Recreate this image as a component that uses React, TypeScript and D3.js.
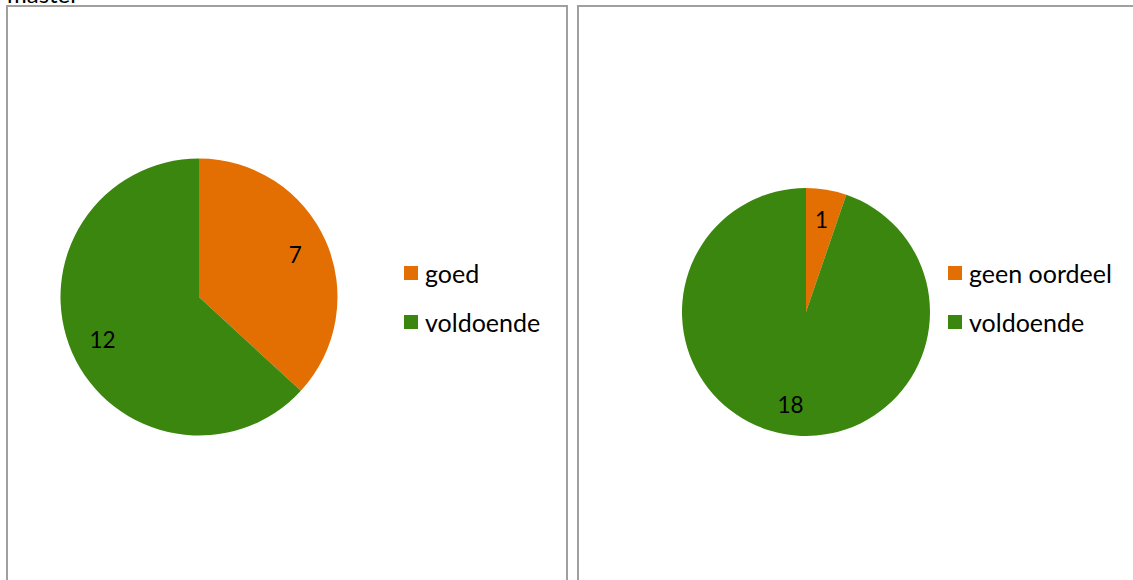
import React from "react";
import * as d3 from "d3";

const leftCategories = ["goed", "voldoende"];
const leftValues = [7, 12];
const rightCategories = ["geen oordeel", "voldoende"];
const rightValues = [1, 18];
const sliceColors = ["#E36F02", "#3A860F"];
const titleText = "master";

const W = 1133;
const H = 580;
const FONT = "Lato, 'Noto Sans', sans-serif";

type PieProps = {
  cats: string[];
  vals: number[];
  cx: number;
  cy: number;
  r: number;
  legendX: number;
  legendY: number;
};

function Pie({ cats, vals, cx, cy, r, legendX, legendY }: PieProps) {
  const pie = d3.pie<number>().sort(null).value((d) => d);
  const arcs = pie(vals);
  const arc = d3.arc<d3.PieArcDatum<number>>().innerRadius(0).outerRadius(r);
  const labelArc = d3
    .arc<d3.PieArcDatum<number>>()
    .innerRadius(r * 0.76)
    .outerRadius(r * 0.76);
  const color = d3.scaleOrdinal<string, string>().domain(cats).range(sliceColors);
  const legendY0 = d3.scalePoint<string>().domain(cats).range([legendY, legendY + 49]);
  return (
    <g>
      <g transform={`translate(${cx},${cy})`}>
        {arcs.map((a, i) => (
          <path key={i} d={arc(a) || ""} fill={color(cats[i])} />
        ))}
        {arcs.map((a, i) => {
          const [x, y] = labelArc.centroid(a);
          return (
            <text
              key={"l" + i}
              x={x}
              y={y}
              textAnchor="middle"
              dominantBaseline="central"
              fontSize={22.5}
              fontFamily={FONT}
              fill="#000"
            >
              {vals[i]}
            </text>
          );
        })}
      </g>
      {cats.map((c, i) => (
        <g key={"lg" + i} transform={`translate(${legendX},${legendY0(c)})`}>
          <rect x={0} y={0} width={14} height={14} fill={color(c)} />
          <text x={21} y={7} dominantBaseline="central" fontSize={25} fontFamily={FONT} fill="#000">
            {c}
          </text>
        </g>
      ))}
    </g>
  );
}

export default function App() {
  return (
    <svg
      width={W}
      height={H}
      style={{ position: "absolute", left: 0, top: 0, background: "#fff" }}
    >
      <rect x={0} y={0} width={W} height={H} fill="#fff" />
      <text x={7} y={3} fontSize={24} fontFamily={FONT} fill="#000">
        {titleText}
      </text>
      <rect x={7} y={6} width={560} height={600} fill="none" stroke="#a0a0a0" strokeWidth={2} />
      <rect x={578} y={6} width={565} height={600} fill="none" stroke="#a0a0a0" strokeWidth={2} />
      <Pie cats={leftCategories} vals={leftValues} cx={199} cy={297} r={138.5} legendX={404} legendY={266} />
      <Pie cats={rightCategories} vals={rightValues} cx={806} cy={312} r={124} legendX={948} legendY={266} />
    </svg>
  );
}
